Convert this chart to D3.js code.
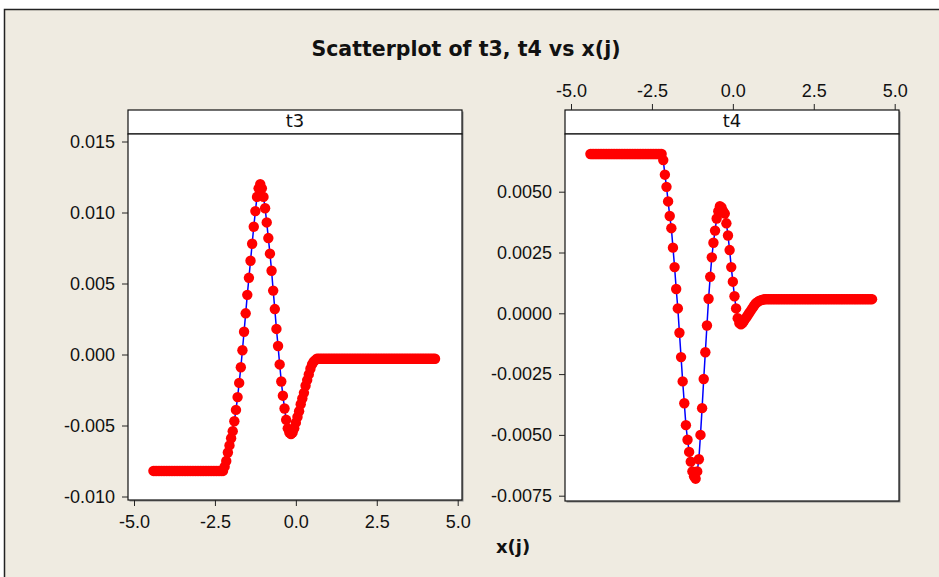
<!DOCTYPE html>
<html>
<head>
<meta charset="utf-8">
<script src="https://cdn.jsdelivr.net/npm/d3@7"></script>
<style>
  body { margin: 0; background: #fff; }
  svg { display: block; font-family: "DejaVu Sans", Verdana, sans-serif; }
</style>
</head>
<body>
<svg id="chart"></svg>
<script>
// sample grid of x(j): first value and spacing
const xFirst = -4.4;
const xStep = 0.05;

const t3 = [
  -0.0082, -0.0082, -0.0082, -0.0082, -0.0082, -0.0082, -0.0082, -0.0082, -0.0082, -0.0082, -0.0082,
  -0.0082, -0.0082, -0.0082, -0.0082, -0.0082, -0.0082, -0.0082, -0.0082, -0.0082, -0.0082, -0.0082,
  -0.0082, -0.0082, -0.0082, -0.0082, -0.0082, -0.0082, -0.0082, -0.0082, -0.0082, -0.0082, -0.0082,
  -0.0082, -0.0082, -0.0082, -0.0082, -0.0082, -0.0082, -0.0082, -0.0082, -0.0082, -0.0082, -0.0082,
  -0.0079, -0.0075, -0.0069, -0.0064, -0.0059, -0.0054, -0.0047, -0.0039, -0.0030, -0.0020, -0.0009,
  0.0003, 0.0016, 0.0029, 0.0042, 0.0054, 0.0066, 0.0078, 0.0090, 0.0101, 0.0111, 0.0117, 0.0120,
  0.0117, 0.0111, 0.0103, 0.0093, 0.0082, 0.0071, 0.0059, 0.0045, 0.0032, 0.0018, 0.0006,
  -0.0007, -0.0019, -0.0029, -0.0038, -0.0046, -0.0052, -0.0055, -0.0056,
  -0.0055, -0.0052, -0.0048, -0.0044, -0.0040, -0.0035, -0.0031, -0.0027, -0.0022, -0.0018,
  -0.0014, -0.0010, -0.0007, -0.0005, -0.0004, -0.0003,
  -0.0003, -0.0003, -0.0003, -0.0003, -0.0003, -0.0003, -0.0003, -0.0003, -0.0003, -0.0003, -0.0003,
  -0.0003, -0.0003, -0.0003, -0.0003, -0.0003, -0.0003, -0.0003, -0.0003, -0.0003, -0.0003, -0.0003,
  -0.0003, -0.0003, -0.0003, -0.0003, -0.0003, -0.0003, -0.0003, -0.0003, -0.0003, -0.0003, -0.0003,
  -0.0003, -0.0003, -0.0003, -0.0003, -0.0003, -0.0003, -0.0003, -0.0003, -0.0003, -0.0003, -0.0003,
  -0.0003, -0.0003, -0.0003, -0.0003, -0.0003, -0.0003, -0.0003, -0.0003, -0.0003, -0.0003, -0.0003,
  -0.0003, -0.0003, -0.0003, -0.0003, -0.0003, -0.0003, -0.0003, -0.0003, -0.0003, -0.0003, -0.0003,
  -0.0003, -0.0003, -0.0003, -0.0003, -0.0003, -0.0003, -0.0003
];

const t4 = [
  0.00655, 0.00655, 0.00655, 0.00655, 0.00655, 0.00655, 0.00655, 0.00655, 0.00655, 0.00655, 0.00655,
  0.00655, 0.00655, 0.00655, 0.00655, 0.00655, 0.00655, 0.00655, 0.00655, 0.00655, 0.00655, 0.00655,
  0.00655, 0.00655, 0.00655, 0.00655, 0.00655, 0.00655, 0.00655, 0.00655, 0.00655, 0.00655, 0.00655,
  0.00655, 0.00655, 0.00655, 0.00655, 0.00655, 0.00655, 0.00655, 0.00655, 0.00655, 0.00655, 0.00655,
  0.00655,
  0.0063, 0.0057, 0.0052, 0.0046, 0.0040, 0.0035, 0.0027, 0.0019, 0.0010, 0.0002, -0.0008,
  -0.0018, -0.0028, -0.0037, -0.0046, -0.0052, -0.0057, -0.0061, -0.0065, -0.0067, -0.0068,
  -0.0065, -0.0060, -0.0050, -0.0039, -0.0027, -0.0016, -0.0005, 0.0006, 0.0015, 0.0023,
  0.0029, 0.0034, 0.0039, 0.0042, 0.0044,
  0.00435, 0.0042, 0.0041, 0.0037, 0.0032, 0.0026, 0.0019, 0.0013, 0.0007, 0.0002, -0.0002,
  -0.0004, -0.00045,
  -0.0004, -0.0003, -0.0002, -0.0001, 0.0000, 0.0001, 0.0002, 0.0003, 0.0004, 0.00045, 0.0005,
  0.00053, 0.00055, 0.00057,
  0.00058, 0.00058, 0.00058, 0.00058, 0.00058, 0.00058, 0.00058, 0.00058, 0.00058, 0.00058, 0.00058,
  0.00058, 0.00058, 0.00058, 0.00058, 0.00058, 0.00058, 0.00058, 0.00058, 0.00058, 0.00058, 0.00058,
  0.00058, 0.00058, 0.00058, 0.00058, 0.00058, 0.00058, 0.00058, 0.00058, 0.00058, 0.00058, 0.00058,
  0.00058, 0.00058, 0.00058, 0.00058, 0.00058, 0.00058, 0.00058, 0.00058, 0.00058, 0.00058, 0.00058,
  0.00058, 0.00058, 0.00058, 0.00058, 0.00058, 0.00058, 0.00058, 0.00058, 0.00058, 0.00058, 0.00058,
  0.00058, 0.00058, 0.00058, 0.00058, 0.00058, 0.00058, 0.00058, 0.00058, 0.00058, 0.00058, 0.00058,
  0.00058
];

const xTicks = [-5, -2.5, 0, 2.5, 5];
const t3Ticks = [-0.010, -0.005, 0, 0.005, 0.010, 0.015];
const t4Ticks = [-0.0075, -0.0050, -0.0025, 0, 0.0025, 0.0050];

const xj = t3.map((_, i) => +(xFirst + i * xStep).toFixed(2));

const width = 939;
const height = 577;
const bg = "#efebe1";

const svg = d3.select("#chart")
  .attr("width", width)
  .attr("height", height);

// outer frame
svg.append("rect")
  .attr("x", 4.5)
  .attr("y", 9.5)
  .attr("width", width)
  .attr("height", height)
  .attr("fill", bg)
  .attr("stroke", "#222")
  .attr("stroke-width", 1.5);

svg.append("text")
  .attr("x", 466)
  .attr("y", 56)
  .attr("text-anchor", "middle")
  .attr("font-size", 20.5)
  .attr("font-weight", "bold")
  .attr("fill", "#111")
  .text("Scatterplot of t3, t4 vs x(j)");

svg.append("text")
  .attr("x", 513)
  .attr("y", 553)
  .attr("text-anchor", "middle")
  .attr("font-size", 18)
  .attr("font-weight", "bold")
  .attr("fill", "#111")
  .text("x(j)");

const panelW = 334;
const headerTop = 110;
const headerH = 24;

function styleAxis(g) {
  g.select(".domain").remove();
  g.selectAll(".tick line").attr("stroke", "#222").attr("stroke-width", 1);
  g.selectAll(".tick text").attr("font-size", 18).attr("fill", "#111");
}

function panel({ name, values, left, bottom, yTicks, yDomain, yRange, digits, xAxisAt }) {
  const top = headerTop + headerH;
  const g = svg.append("g");

  const x = d3.scaleLinear().domain([-5, 5]).range([left + 6, left + 329.7]);
  const y = d3.scaleLinear().domain(yDomain).range(yRange);

  // shadow + boxes
  g.append("rect")
    .attr("x", left + 1.5).attr("y", headerTop + 1.5)
    .attr("width", panelW).attr("height", bottom - headerTop)
    .attr("fill", "#8a8a8a");
  g.append("rect")
    .attr("x", left).attr("y", headerTop)
    .attr("width", panelW).attr("height", headerH)
    .attr("fill", "#fff").attr("stroke", "#111").attr("stroke-width", 1.2);
  g.append("rect")
    .attr("x", left).attr("y", top)
    .attr("width", panelW).attr("height", bottom - top)
    .attr("fill", "#fff").attr("stroke", "#111").attr("stroke-width", 1.2);
  g.append("text")
    .attr("x", left + panelW / 2)
    .attr("y", headerTop + 17)
    .attr("text-anchor", "middle")
    .attr("font-size", 18)
    .attr("fill", "#111")
    .text(name);

  g.append("g")
    .attr("transform", `translate(${left},0)`)
    .call(d3.axisLeft(y).tickValues(yTicks).tickSize(6).tickPadding(7)
      .tickFormat(d => d.toFixed(digits)))
    .call(styleAxis);

  if (xAxisAt === "bottom") {
    g.append("g")
      .attr("transform", `translate(0,${bottom})`)
      .call(d3.axisBottom(x).tickValues(xTicks).tickSize(6).tickPadding(9)
        .tickFormat(d => d.toFixed(1)))
      .call(styleAxis);
  } else {
    g.append("g")
      .attr("transform", `translate(0,${headerTop})`)
      .call(d3.axisTop(x).tickValues(xTicks).tickSize(6).tickPadding(7)
        .tickFormat(d => d.toFixed(1)))
      .call(styleAxis);
  }

  const pts = xj.map((d, i) => ({ x: d, v: values[i] }));

  const line = d3.line()
    .x(d => x(d.x))
    .y(d => y(d.v));

  g.append("path")
    .datum(pts)
    .attr("d", line)
    .attr("fill", "none")
    .attr("stroke", "#0000ff")
    .attr("stroke-width", 1.5);

  g.selectAll("circle.pt")
    .data(pts)
    .join("circle")
    .attr("class", "pt")
    .attr("cx", d => x(d.x))
    .attr("cy", d => y(d.v))
    .attr("r", 5.2)
    .attr("fill", "#ff0000");
}

panel({
  name: "t3", values: t3, left: 128, bottom: 500,
  yTicks: t3Ticks, yDomain: [-0.010, 0.015], yRange: [496.5, 141.5],
  digits: 3, xAxisAt: "bottom"
});

panel({
  name: "t4", values: t4, left: 565, bottom: 501,
  yTicks: t4Ticks, yDomain: [-0.0075, 0.005], yRange: [495.7, 191.7],
  digits: 4, xAxisAt: "top"
});
</script>
</body>
</html>
